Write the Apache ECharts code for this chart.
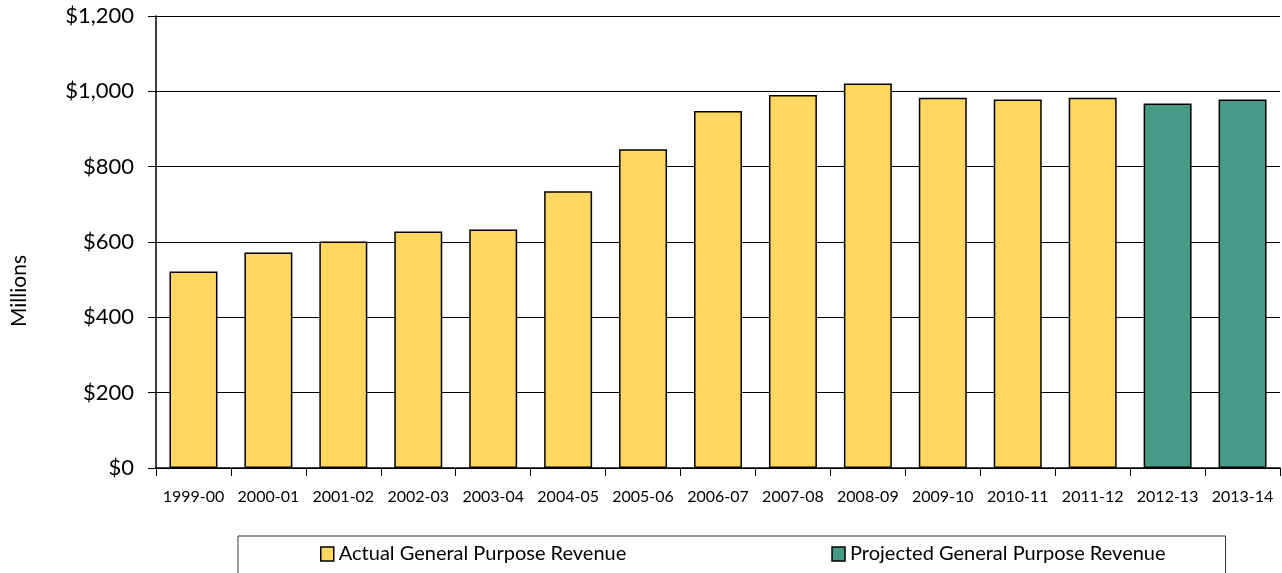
<!DOCTYPE html>
<html><head><meta charset="utf-8">
<script src="https://cdn.jsdelivr.net/npm/echarts@6/dist/echarts.min.js"></script>
<style>html,body{margin:0;padding:0;background:#fff}#c{width:1282px;height:573px}</style>
</head><body><div id="c"></div>
<script>
const categories = ['1999-00','2000-01','2001-02','2002-03','2003-04','2004-05','2005-06','2006-07','2007-08','2008-09','2009-10','2010-11','2011-12','2012-13','2013-14'];
const actual = [522, 572, 601, 628, 633, 735, 846, 948, 990, 1021, 983, 978, 983, null, null];
const projected = [null, null, null, null, null, null, null, null, null, null, null, null, null, 968, 978];
const yTicks = [0, 200, 400, 600, 800, 1000, 1200];
const font = 'Lato, "DejaVu Sans", sans-serif';
const chart = echarts.init(document.getElementById('c'));
chart.setOption({
  animation: false,
  textStyle: {fontFamily: font},
  grid: {left: 156, top: 16, right: 2, bottom: 105, show: false},
  graphic: [{type: 'text', left: 9, top: 255, rotation: Math.PI / 2,
    style: {text: 'Millions', fontSize: 21, fill: '#000', fontFamily: font}}],
  legend: {
    left: 238, top: 536,
    padding: [8, 60, 20, 82],
    itemGap: 205,
    itemWidth: 13, itemHeight: 14,
    borderColor: '#333', borderWidth: 1,
    textStyle: {fontSize: 20, color: '#000', fontFamily: font},
    data: [
      {name: 'Actual General Purpose Revenue', icon: 'rect', itemStyle: {borderColor: '#000', borderWidth: 1.5}},
      {name: 'Projected General Purpose Revenue', icon: 'rect', itemStyle: {borderColor: '#000', borderWidth: 1.5}}
    ]
  },
  xAxis: {
    type: 'category', data: categories,
    axisLine: {lineStyle: {color: '#000', width: 1.5}},
    axisTick: {show: true, length: 8, interval: 0, lineStyle: {color: '#000', width: 1}},
    axisLabel: {fontSize: 16, interval: 0, color: '#000', margin: 21, fontFamily: font}
  },
  yAxis: {
    type: 'value', min: 0, max: 1200, interval: 200,
    axisLine: {show: true, lineStyle: {color: '#000', width: 1.5}},
    axisTick: {show: true, length: 8, lineStyle: {color: '#000'}},
    axisLabel: {fontSize: 22, color: '#000', margin: 22, fontFamily: font,
      formatter: v => yTicks.includes(v) ? '$' + v.toLocaleString('en-US') : ''},
    splitLine: {show: true, lineStyle: {color: '#000', width: 1}}
  },
  series: [
    {name: 'Actual General Purpose Revenue', type: 'bar', stack: 'a', data: actual, barCategoryGap: '36%',
     itemStyle: {color: '#FFD761', borderColor: '#000', borderWidth: 1.5}},
    {name: 'Projected General Purpose Revenue', type: 'bar', stack: 'a', data: projected, barCategoryGap: '36%',
     itemStyle: {color: '#479A86', borderColor: '#000', borderWidth: 1.5}}
  ]
});
</script></body></html>
